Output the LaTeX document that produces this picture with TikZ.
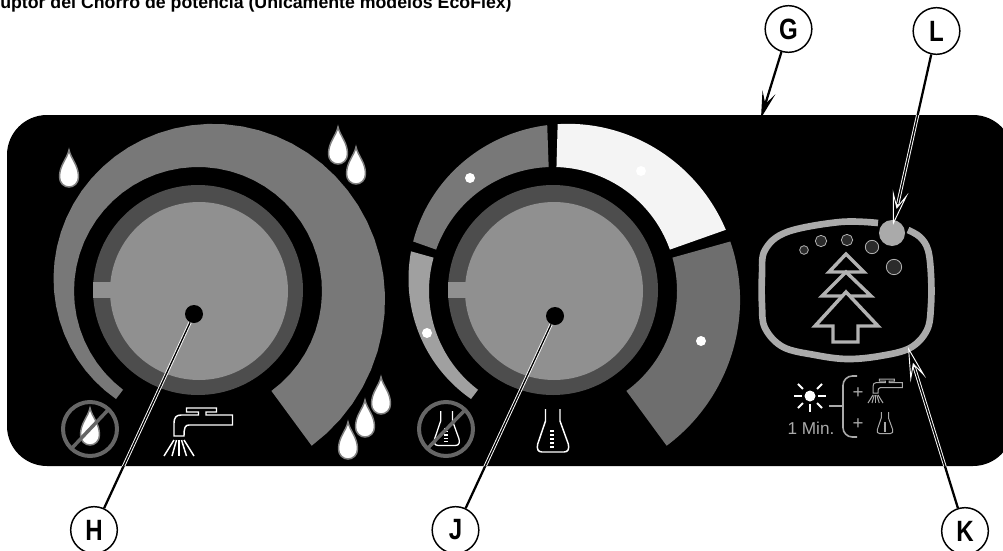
\documentclass[tikz,border=0pt]{standalone}
\usepackage{fontspec}
\setmainfont{Liberation Sans}
\newfontfamily\calloutfont{Liberation Sans}[FakeStretch=0.82]
\usetikzlibrary{arrows.meta, calc}
\definecolor{knobgray}{RGB}{144,144,144}
\definecolor{collargray}{RGB}{77,77,77}
\definecolor{arcgray}{RGB}{120,120,120}
\definecolor{lowgray}{RGB}{160,160,160}
\definecolor{paleseg}{RGB}{244,244,244}
\definecolor{highgray}{RGB}{110,110,110}
\definecolor{traygray}{RGB}{170,170,170}
\definecolor{bubblefill}{RGB}{43,43,43}
\definecolor{crossgray}{RGB}{102,102,102}

% one sector of the spiral band round a knob
\newcommand{\ringseg}[4]{%
  \fill[#1] plot[domain=#3:#4,samples=50] ({#2+ringr((232.8-\x)/100)*cos(\x)},{291-ringr((232.8-\x)/100)*sin(\x)})
    -- plot[domain=#4:#3,samples=50] ({#2+124*cos(\x)},{291-124*sin(\x)}) -- cycle;}
\newcommand{\dropicon}[2]{%
  \begin{scope}[shift={(#1,#2)}]
    \draw[dropline] (0,0) .. controls (2,9) and (9.5,15) .. (9.5,27)
      .. controls (9.5,33) and (5,37) .. (0,37)
      .. controls (-5,37) and (-9.5,33) .. (-9.5,27)
      .. controls (-9.5,15) and (-2,9) .. cycle;
  \end{scope}}
\newcommand{\tapicon}[4]{%
  \begin{scope}[shift={(#1,#2)},scale=#3,draw=#4,line width=0.4pt+0.7pt*#3,line join=miter]
    \draw (0,28) -- (0,15) .. controls (0,10) and (2,7) .. (7,7) -- (24.5,7) -- (24.5,4) -- (12.5,4) -- (12.5,0)
      -- (42.5,0) -- (42.5,4) -- (32,4) -- (32,7) -- (58.5,7) -- (58.5,17) -- (15,17)
      .. controls (11,17) and (10,20) .. (10,28) -- cycle;
    \foreach \ax/\bx in {5/5, 2.5/-2, 0/-10, 7.5/12.5, 10/20} {
      \draw (\ax,32) -- (\bx,48);
    }
  \end{scope}}
\newcommand{\flaskicon}[4]{%
  \begin{scope}[shift={(#1,#2)},scale=#3]
    \draw[draw=#4,line width=0.4pt+0.7pt*#3,line join=round] (8.5,0) -- (8.5,12) -- (0.7,35)
      .. controls (-0.5,40) and (1,43) .. (5,43) -- (27,43)
      .. controls (31,43) and (32.5,40) .. (31.3,35) -- (23,12) -- (23,0);
    \foreach \ty in {22,26,30,34,38} {
      \draw[draw=#4,line width=1pt] (13,\ty) -- (17,\ty);
    }
  \end{scope}}

\begin{document}
\begin{tikzpicture}[
    x=0.75pt, y=-0.75pt,
    declare function={ringr(\u)=135.6+\u*(10.04+12.85*\u-3.31*\u*\u);},
    callout/.style={circle, draw=black, fill=white, line width=1.1pt, minimum size=35pt, inner sep=0pt,
        font=\calloutfont\bfseries\fontsize{22}{22}\selectfont},
    pivot/.style={circle, fill=black, minimum size=13.5pt, inner sep=0pt},
    spot/.style={circle, fill=white, minimum size=7.5pt, inner sep=0pt},
    bubble/.style={circle, draw=traygray!90, fill=bubblefill, line width=0.6pt, minimum size=#1, inner sep=0pt},
    dropline/.style={draw=gray, fill=white, line width=1.1pt},
    leader/.style={draw=black, line width=1.7pt},
    halo/.style={draw=white, line width=2.4pt},
    core/.style={draw=black, line width=1pt},
    haloarr/.style={draw=white, line width=2.4pt,
        -{Stealth[length=26pt, width=12pt, inset=12pt, color=white, fill=black, line width=0.7pt]}},
    pointer/.style={draw=black, line width=1.7pt, -{Stealth[length=20pt, width=10pt, inset=9pt]}},
    noentry/.style={draw=crossgray, line width=3pt},
    tree/.style={draw=traygray!90, fill=black, line width=2.6pt, line join=miter},
    small/.style={text=traygray, font=\fontsize{12.9}{12.9}\selectfont, inner sep=0pt},
]
\clip (0,0) rectangle (1003,550);
\fill[white] (0,0) rectangle (1003,550);

% Caption, cut by the page edge
\node[anchor=base west, inner sep=0pt, font=\bfseries\fontsize{13.3}{13.3}\selectfont] (caption) at (0,8)
    {uptor del Chorro de potencia (Únicamente modelos EcoFlex)};

% Panel
\fill[black, rounded corners=30pt] (7,115) rectangle (1013,466);

% Left band and drops
\ringseg{arcgray}{198}{232.8}{-53.7}
\dropicon{69}{150}
\dropicon{338}{127}
\dropicon{356}{147}
\dropicon{381}{377}
\dropicon{365}{400}
\dropicon{348}{422}

% Right band
\ringseg{lowgray}{553}{232.8}{164.4}
\ringseg{arcgray}{553}{160.5}{92}
\ringseg{paleseg}{553}{88.4}{19.5}
\ringseg{highgray}{553}{15.6}{-53.7}
\node[spot] (spotA) at (427,333) {};
\node[spot] (spotB) at (470,178) {};
\node[spot] (spotC) at (641,171) {};
\node[spot] (spotD) at (701,341) {};

% Knobs
\foreach \cx in {198,553} {
  \fill[collargray] (\cx,290) circle (105);
  \fill[knobgray] (\cx+1,291) circle (89);
  \fill[knobgray] (\cx-105,282) rectangle (\cx-85,298);
}
\node[pivot] (dotH) at (194,314) {};
\node[pivot] (dotJ) at (555,316) {};

% Icons under the knobs
\draw[noentry] (90,429) circle (27);
\dropicon{90}{408}
\draw[noentry, line width=2.6pt] (72,448) -- (108,410);
\tapicon{174}{408}{1}{white}
\draw[noentry] (446,429) circle (27);
\flaskicon{434}{411}{0.8}{white}
\draw[noentry, line width=2.6pt] (428,448) -- (465,410);
\flaskicon{537}{409}{1}{white}

% Tray with the tree
\draw[draw=traygray, line width=5pt] plot[smooth, tension=0.6] coordinates {(878,223) (840,222) (787,232) (765,250) (762,275)
    (762,305) (765,328) (783,347) (815,355) (847,359) (880,356) (910,348) (927,330) (931,305)
    (931,275) (928,250) (920,237) (908,230)};
\fill[traygray] (892,233) circle (13);
\node[bubble=6.5pt] (bubA) at (804,250) {};
\node[bubble=8.5pt] (bubB) at (821,241) {};
\node[bubble=8.5pt] (bubC) at (847,240) {};
\node[bubble=10pt] (bubD) at (872,247) {};
\node[bubble=11.5pt] (bubE) at (894,267) {};
\draw[tree] (846,254) -- (829,272) -- (864,272) -- cycle;
\draw[tree] (846,272) -- (822,296) -- (871,296) -- cycle;
\draw[tree] (846,292) -- (815,326) -- (833,326) -- (833,342) -- (858,342) -- (858,326) -- (878,326) -- cycle;

% Sun and reminder
\fill[white] (810,396) circle (5.5);
\foreach \ang in {0,90,180} {
  \draw[white, line width=1.5pt] (810,396) ++(\ang:8) -- ++(\ang:8);
}
\draw[white, line width=2.2pt] (810,404) -- (810,412);
\foreach \ang in {45,135,225,315} {
  \draw[white, line width=1.5pt] (810,396) ++(\ang:10) -- ++(\ang:7);
}
\node[small] (oneMin) at (811,428) {1 Min.};
\draw[traygray, line width=1.2pt] (829,406) -- (843,406);
\draw[traygray, line width=1.2pt, rounded corners=7pt] (857,376) -- (843,376) -- (843,437) -- (857,437);
\node[small, font=\fontsize{14}{14}\selectfont] (plusA) at (858,393) {+};
\node[small, font=\fontsize{14}{14}\selectfont] (plusB) at (858,424) {+};
\tapicon{873}{379}{0.5}{traygray}
\flaskicon{877}{412}{0.5}{traygray}

% Callouts
\node[callout] (G) at (788.5,29) {G};
\node[callout] (L) at (936.5,31) {L};
\node[callout] (H) at (94,530) {H};
\node[callout] (J) at (455.5,530) {J};
\node[callout] (K) at (965,531) {K};
\coordinate (tipG) at (761,118);
\coordinate (tipL) at (893,225);
\coordinate (tipK) at (908,347);

\draw[pointer] (G) -- (tipG);
\draw[leader] (H) -- (dotH);
\draw[leader] (J) -- (dotJ);
\draw[leader] (L) -- ($(tipL)!25pt!(L)$);
\draw[leader] (K) -- ($(tipK)!25pt!(K)$);
\begin{scope}
  \clip[rounded corners=30pt] (7,115) rectangle (1013,466);
  \draw[halo] (H) -- (dotH);
  \draw[core] (H) -- (dotH);
  \draw[halo] (J) -- (dotJ);
  \draw[core] (J) -- (dotJ);
  \draw[haloarr] (L) -- (tipL);
  \draw[core] (L) -- ($(tipL)!16pt!(L)$);
  \draw[haloarr] (K) -- (tipK);
  \draw[core] (K) -- ($(tipK)!16pt!(K)$);
\end{scope}
\end{tikzpicture}
\end{document}
